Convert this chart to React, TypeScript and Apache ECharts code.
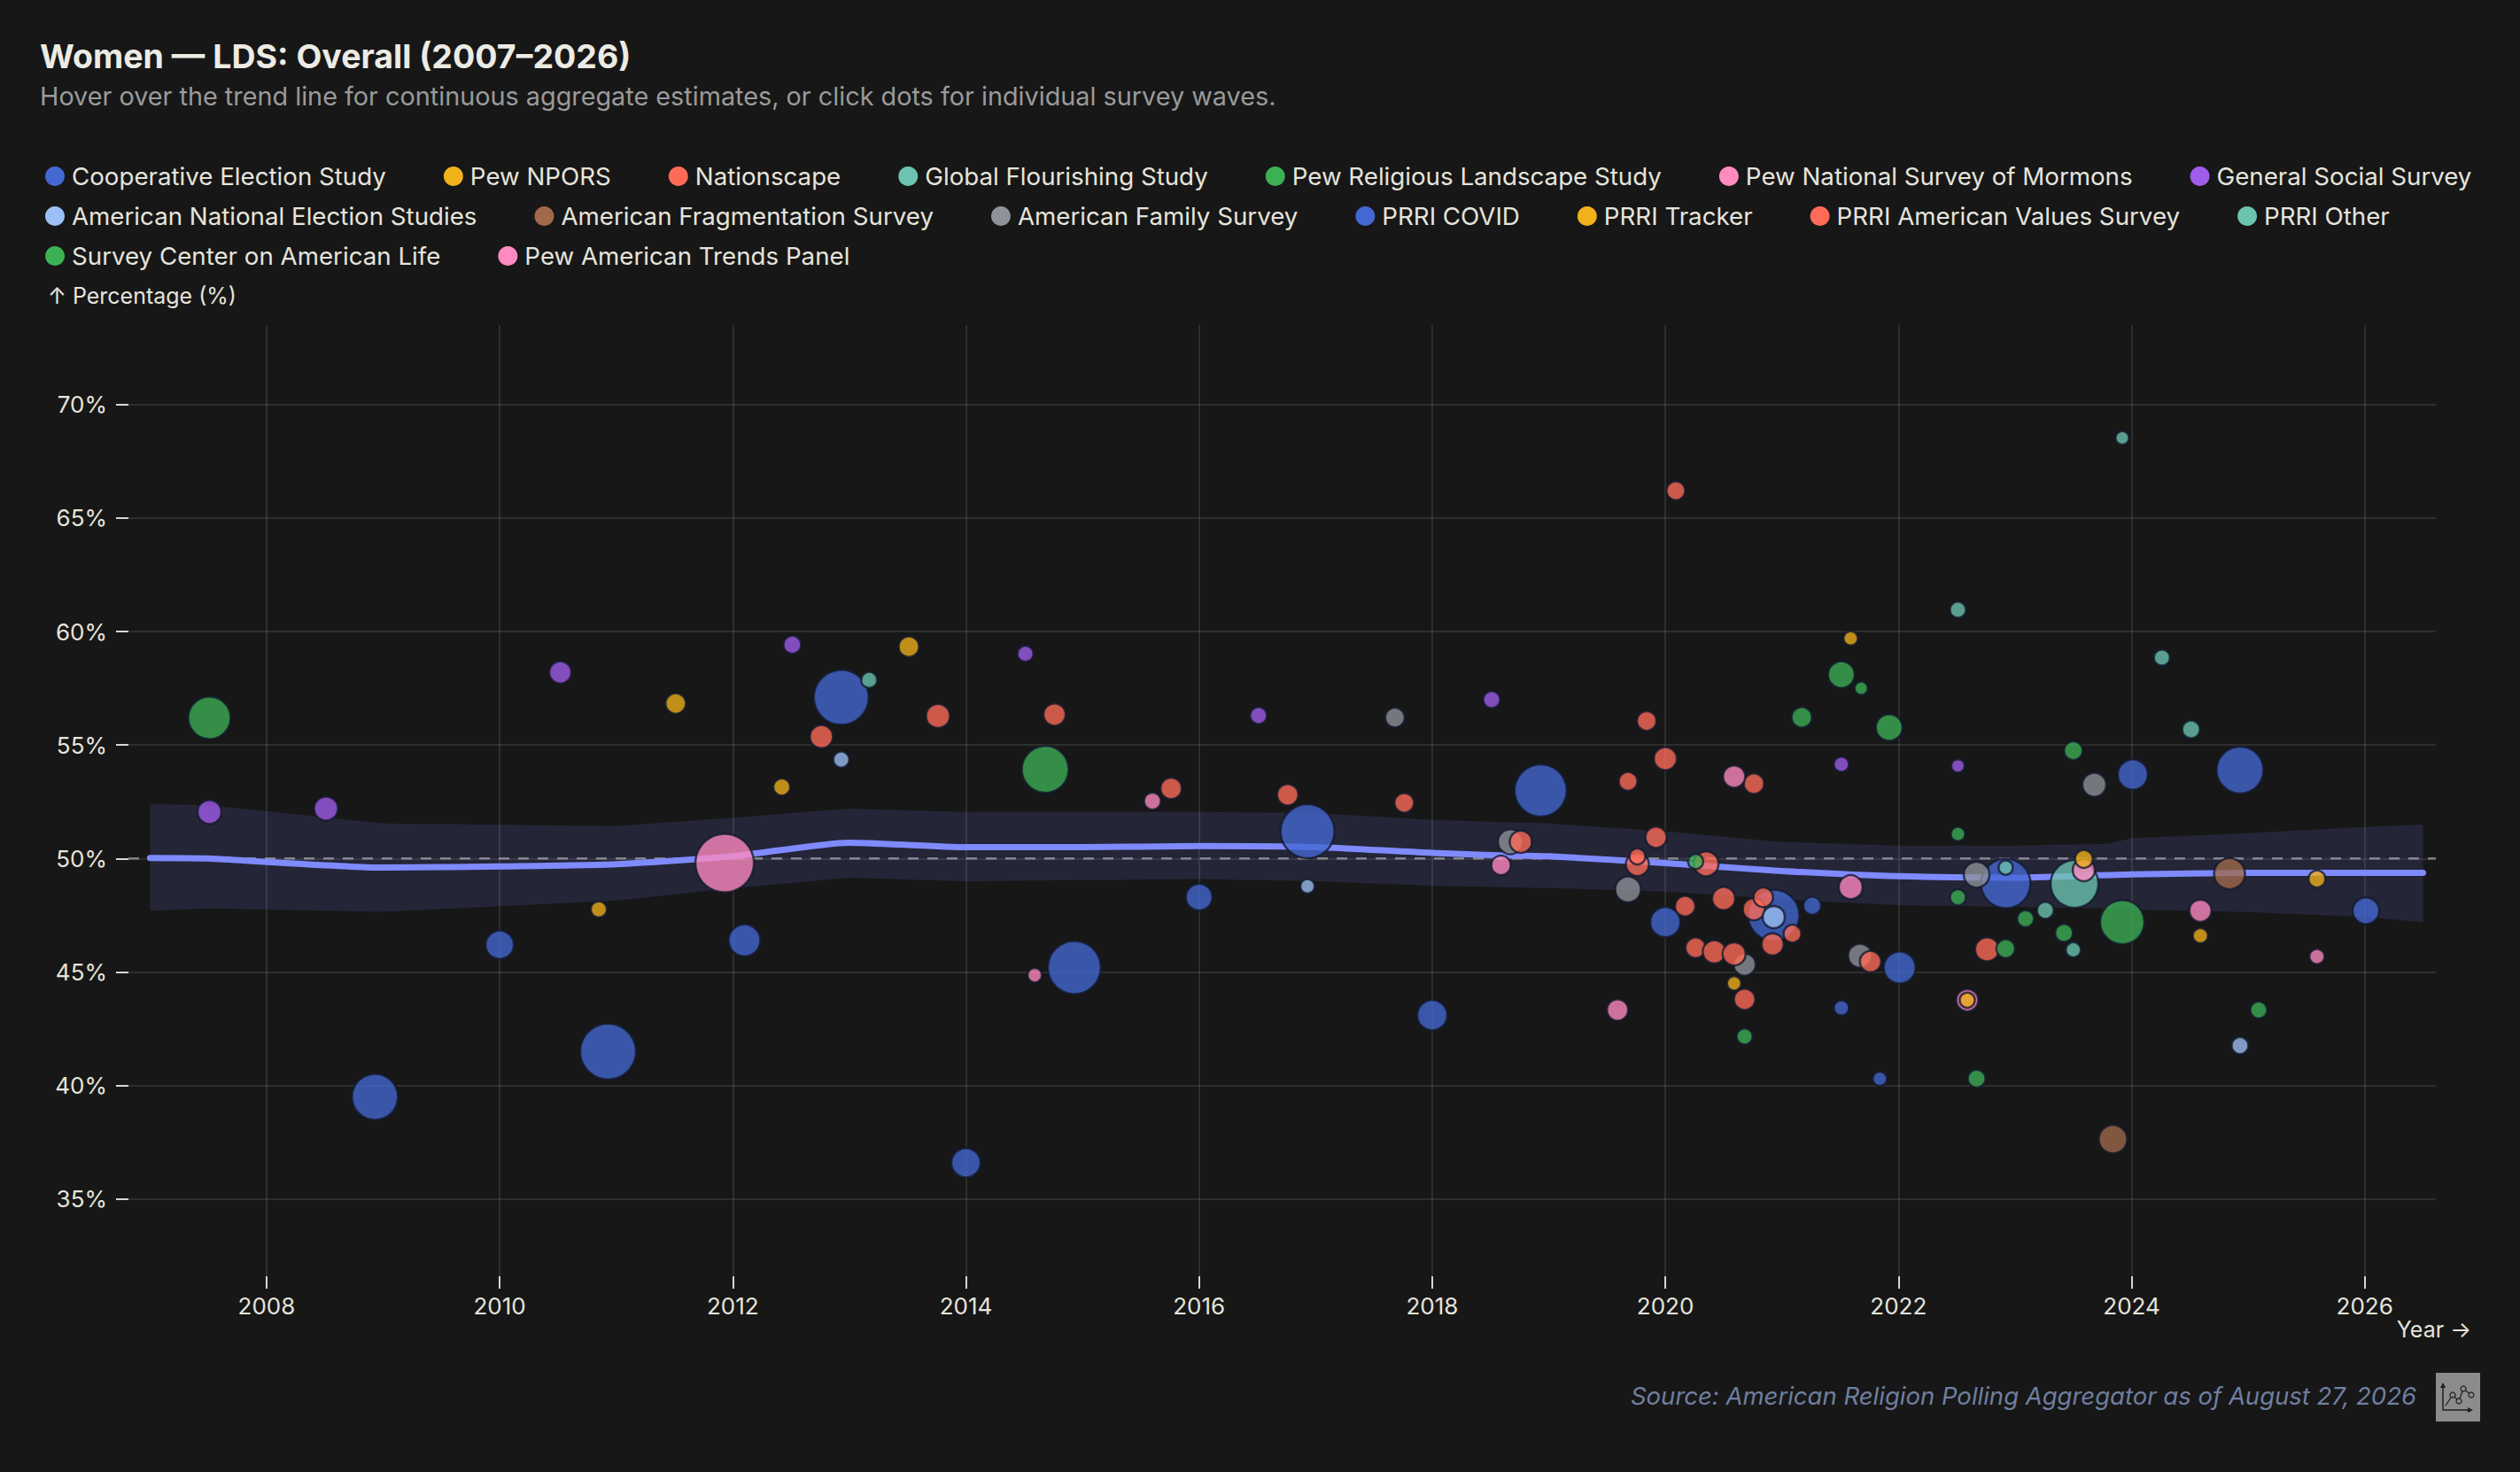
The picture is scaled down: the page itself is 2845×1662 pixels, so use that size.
import React, { useEffect, useRef } from "react";
import * as echarts from "echarts";

// --- survey waves: [year, percent, dot size] ---
const ces = [
	[2008.93, 39.5, 54], [2010.0, 46.2, 34], [2010.93, 41.5, 65], [2012.1, 46.4, 38],
	[2012.93, 57.1, 64], [2014.0, 36.6, 35], [2014.93, 45.2, 62], [2016.0, 48.3, 32],
	[2016.93, 51.2, 63], [2018.0, 43.1, 36], [2018.93, 53.0, 61], [2020.0, 47.2, 36],
	[2020.93, 47.5, 60], [2022.01, 45.2, 38], [2022.92, 48.9, 58], [2024.01, 53.7, 36],
	[2024.93, 53.9, 55], [2026.01, 47.7, 32],
];
const pewNpors = [[2020.59, 44.5, 18], [2021.59, 59.7, 18], [2024.59, 46.6, 19], [2025.59, 49.1, 21]];
const nationscape = [
	[2019.68, 53.4, 23], [2019.76, 49.74, 28], [2019.76, 50.09, 20], [2019.84, 56.06, 24],
	[2019.92, 50.94, 26], [2020.0, 54.4, 28], [2020.09, 66.2, 23], [2020.17, 47.9, 25],
	[2020.26, 46.07, 25], [2020.35, 49.77, 30], [2020.42, 45.89, 28], [2020.5, 48.24, 28],
	[2020.59, 45.8, 28], [2020.68, 43.8, 26], [2020.76, 53.3, 25], [2020.76, 47.77, 27],
	[2020.84, 48.29, 24], [2020.92, 46.22, 27], [2021.09, 46.69, 22],
];
const globalFlourishing = [[2023.26, 47.72, 21], [2023.5, 45.98, 19], [2023.51, 48.88, 56], [2024.26, 58.85, 20]];
const pewLandscape = [[2007.51, 56.2, 50], [2014.68, 53.93, 55], [2023.92, 47.2, 52]];
const pewMormons = [[2011.93, 49.8, 68]];
const gss = [
	[2007.51, 52.05, 29], [2008.51, 52.2, 29], [2010.52, 58.2, 27], [2012.51, 59.42, 22],
	[2014.51, 59.02, 20], [2016.51, 56.3, 21], [2018.51, 57.0, 21], [2021.51, 54.15, 19],
	[2022.51, 54.08, 17],
];
const anes = [[2012.93, 54.36, 20], [2016.93, 48.78, 18], [2020.93, 47.42, 27], [2024.93, 41.76, 21]];
const fragmentation = [[2023.84, 37.64, 34], [2024.84, 49.33, 37]];
const familySurvey = [
	[2017.68, 56.21, 24], [2018.67, 50.74, 30], [2019.68, 48.64, 31], [2020.68, 45.33, 27],
	[2021.67, 45.72, 29], [2022.67, 49.29, 31], [2023.68, 53.25, 29],
];
const prriCovid = [[2021.26, 47.92, 22], [2021.51, 43.42, 19], [2021.84, 40.3, 18]];
const prriTracker = [
	[2010.85, 47.76, 20], [2011.51, 56.83, 25], [2012.42, 53.15, 21], [2013.51, 59.33, 25],
	[2022.59, 43.76, 19], [2023.59, 49.98, 22],
];
const prriValues = [
	[2012.76, 55.37, 28], [2013.76, 56.28, 29], [2014.76, 56.34, 27], [2015.76, 53.09, 26],
	[2016.76, 52.81, 26], [2017.76, 52.45, 24], [2018.76, 50.74, 27], [2021.76, 45.46, 26],
	[2022.76, 46.0, 29],
];
const prriOther = [[2013.17, 57.87, 20], [2022.51, 60.96, 20], [2022.92, 49.6, 18], [2023.92, 68.53, 17], [2024.51, 55.69, 22]];
const scal = [
	[2020.26, 49.87, 19], [2020.68, 42.16, 20], [2021.17, 56.22, 25], [2021.51, 58.1, 32],
	[2021.68, 57.5, 17], [2021.92, 55.77, 32], [2022.51, 51.08, 18], [2022.51, 48.29, 20],
	[2022.67, 40.31, 22], [2022.92, 46.03, 23], [2023.09, 47.35, 21], [2023.42, 46.72, 22],
	[2023.5, 54.75, 23], [2025.09, 43.33, 21],
];
const pewTrends = [
	[2014.59, 44.86, 18], [2015.6, 52.53, 21], [2018.59, 49.7, 24], [2019.59, 43.33, 26],
	[2020.59, 53.61, 27], [2021.59, 48.74, 29], [2022.59, 43.76, 27], [2023.59, 49.49, 27],
	[2024.59, 47.7, 27], [2025.59, 45.68, 19],
];

// --- aggregate trend and its band ---
const trendYears = [2007.0, 2007.5, 2008.0, 2009.0, 2010.0, 2011.0, 2012.0, 2013.0, 2014.0, 2015.0, 2016.0, 2017.0, 2018.0, 2018.5, 2019.0, 2020.0, 2021.0, 2022.0, 2023.0, 2024.0, 2025.0, 2026.0, 2026.5];
const trendValues = [50.02, 50.0, 49.85, 49.6, 49.65, 49.75, 50.1, 50.7, 50.5, 50.5, 50.55, 50.5, 50.25, 50.15, 50.1, 49.8, 49.45, 49.22, 49.16, 49.3, 49.37, 49.37, 49.37];
const bandYears = [2007.0, 2007.5, 2009.0, 2011.0, 2012.0, 2013.0, 2014.0, 2015.0, 2016.0, 2017.0, 2018.0, 2019.0, 2020.0, 2021.0, 2022.0, 2023.0, 2023.8, 2024.0, 2025.0, 2026.0, 2026.5];
const bandUpper = [52.4, 52.35, 51.55, 51.43, 51.8, 52.2, 52.05, 52.05, 52.05, 52.0, 51.7, 51.55, 51.2, 50.73, 50.57, 50.57, 50.65, 50.9, 51.12, 51.39, 51.5];
const bandLower = [47.7, 47.8, 47.65, 48.15, 48.7, 49.16, 49.0, 49.05, 49.1, 49.0, 48.8, 48.7, 48.55, 48.2, 47.95, 47.87, 47.8, 47.75, 47.64, 47.43, 47.2];

const xTicks = [2008, 2010, 2012, 2014, 2016, 2018, 2020, 2022, 2024, 2026];
const yTicks = [35, 40, 45, 50, 55, 60, 65, 70];
const X_MIN = 2006.815;
const X_MAX = 2026.61;
const Y_MIN = 31.6;
const Y_MAX = 73.5;
const REFERENCE = 50;

// legend order, with colour
const surveys = [
	{ name: "Cooperative Election Study", color: "#4468D2", data: ces },
	{ name: "Pew NPORS", color: "#F0B11A", data: pewNpors },
	{ name: "Nationscape", color: "#FF6B57", data: nationscape },
	{ name: "Global Flourishing Study", color: "#6CC4B0", data: globalFlourishing },
	{ name: "Pew Religious Landscape Study", color: "#3CB054", data: pewLandscape },
	{ name: "Pew National Survey of Mormons", color: "#FF8AC0", data: pewMormons },
	{ name: "General Social Survey", color: "#A05CEB", data: gss },
	{ name: "American National Election Studies", color: "#9CC0F5", data: anes },
	{ name: "American Fragmentation Survey", color: "#A0694B", data: fragmentation },
	{ name: "American Family Survey", color: "#8E9299", data: familySurvey },
	{ name: "PRRI COVID", color: "#4468D2", data: prriCovid },
	{ name: "PRRI Tracker", color: "#F0B11A", data: prriTracker },
	{ name: "PRRI American Values Survey", color: "#FF6B57", data: prriValues },
	{ name: "PRRI Other", color: "#6CC4B0", data: prriOther },
	{ name: "Survey Center on American Life", color: "#3CB054", data: scal },
	{ name: "Pew American Trends Panel", color: "#FF8AC0", data: pewTrends },
];

// bigger dots go underneath
const drawOrder = [
	"Cooperative Election Study", "Pew National Survey of Mormons", "Global Flourishing Study",
	"Pew Religious Landscape Study", "American Fragmentation Survey", "American Family Survey",
	"Nationscape", "PRRI American Values Survey", "Survey Center on American Life",
	"American National Election Studies", "PRRI COVID", "General Social Survey", "PRRI Other",
	"Pew American Trends Panel", "Pew NPORS", "PRRI Tracker",
];

const FONT = "Inter, 'Noto Sans', sans-serif";
const TEXT = "#e6e4dc";

const App: React.FC = () => {
	const chartRef = useRef<HTMLDivElement>(null);

	useEffect(() => {
		if (!chartRef.current) return;
		const chart = echarts.init(chartRef.current, null, { renderer: "svg" });

		const dotSeries = drawOrder.map((name) => {
			const s = surveys.find((d) => d.name === name)!;
			return {
				name: s.name,
				type: "scatter",
				z: 4,
				data: s.data,
				symbolSize: (v: number[]) => v[2] - 2,
				itemStyle: {
					color: s.color,
					opacity: 0.78,
					borderColor: "#131a2c",
					borderWidth: 2.5,
				},
			};
		});

		const option: any = {
			animation: false,
			backgroundColor: "#171717",
			textStyle: { fontFamily: FONT },
			grid: { left: 145, right: 95, top: 367, bottom: 221, containLabel: false },
			legend: {
				data: surveys.map((s) => s.name),
				left: 46,
				right: 0,
				top: 180,
				icon: "circle",
				itemWidth: 22,
				itemHeight: 22,
				itemGap: 17,
				itemStyle: { opacity: 1, borderWidth: 0 },
				textStyle: {
					color: TEXT,
					fontSize: 27.7,
					fontFamily: FONT,
					lineHeight: 28,
					padding: [0, 48, 0, 3],
				},
			},
			xAxis: {
				type: "value",
				min: X_MIN,
				max: X_MAX,
				axisLine: { show: false },
				axisTick: {
					show: true,
					customValues: xTicks,
					length: 14,
					lineStyle: { color: "#d8d6ce", width: 2 },
				},
				axisLabel: {
					customValues: xTicks,
					formatter: (v: number) => String(v),
					color: TEXT,
					fontSize: 26,
					fontFamily: FONT,
					margin: 20,
				},
				splitLine: { show: true, lineStyle: { color: "rgba(255,255,255,0.1)", width: 2 } },
			},
			yAxis: {
				type: "value",
				min: Y_MIN,
				max: Y_MAX,
				axisLine: { show: false },
				axisTick: {
					show: true,
					customValues: yTicks,
					length: 14,
					lineStyle: { color: "#d8d6ce", width: 2 },
				},
				axisLabel: {
					customValues: yTicks,
					formatter: (v: number) => `${v}%`,
					color: TEXT,
					fontSize: 26,
					fontFamily: FONT,
					margin: 24,
				},
				splitLine: { show: true, lineStyle: { color: "rgba(255,255,255,0.1)", width: 2 } },
			},
			series: [
				{
					name: "band",
					type: "custom",
					z: 1,
					silent: true,
					data: [[bandYears[0], bandLower[0]]],
					renderItem: (params: any, api: any) => {
						const top = bandYears.map((x, i) => api.coord([x, bandUpper[i]]));
						const bottom = bandYears.map((x, i) => api.coord([x, bandLower[i]])).reverse();
						return {
							type: "polygon",
							shape: { points: top.concat(bottom) },
							style: { fill: "rgba(123,134,255,0.14)" },
						};
					},
				},
				{
					name: "reference",
					type: "line",
					z: 2,
					silent: true,
					showSymbol: false,
					data: [[X_MIN, REFERENCE], [X_MAX, REFERENCE]],
					lineStyle: { color: "rgba(190,190,190,0.6)", width: 2.5, type: [12, 10] },
				},
				{
					name: "trend",
					type: "line",
					z: 3,
					silent: true,
					smooth: 0.2,
					showSymbol: false,
					data: trendYears.map((x, i) => [x, trendValues[i]]),
					lineStyle: { color: "#7f8aff", width: 7, cap: "round", join: "round" },
				},
				...dotSeries,
			],
			graphic: [
				{
					type: "text", x: 45, y: 63,
					style: { text: "Women — LDS: Overall (2007–2026)", fill: "#ecebe4", font: `bold 37.5px ${FONT}`, verticalAlign: "middle" },
				},
				{
					type: "text", x: 45, y: 108,
					style: { text: "Hover over the trend line for continuous aggregate estimates, or click dots for individual survey waves.", fill: "#9a9a9a", font: `28.8px ${FONT}`, verticalAlign: "middle" },
				},
				{
					type: "text", x: 54, y: 334,
					style: { text: "↑ Percentage (%)", fill: TEXT, font: `25px ${FONT}`, verticalAlign: "middle" },
				},
				{
					type: "text", x: 2790, y: 1501,
					style: { text: "Year →", fill: TEXT, font: `25px ${FONT}`, align: "right", verticalAlign: "middle" },
				},
				{
					type: "text", x: 2728, y: 1576,
					style: { text: "Source: American Religion Polling Aggregator as of August 27, 2026", fill: "#6f7f9f", font: `italic 27.5px ${FONT}`, align: "right", verticalAlign: "middle" },
				},
				{
					type: "group", x: 2750, y: 1550,
					children: [
						{ type: "rect", shape: { x: 0, y: 0, width: 50, height: 55 }, style: { fill: "#8c8c8c" } },
						{ type: "polyline", shape: { points: [[8, 15], [8, 42], [38, 42]] }, style: { stroke: "#1e1e1e", lineWidth: 1.5, fill: "none" } },
						{ type: "polygon", shape: { points: [[5, 17], [8, 11], [11, 17]] }, style: { fill: "#1e1e1e" } },
						{ type: "polygon", shape: { points: [[36, 39], [42, 42], [36, 45]] }, style: { fill: "#1e1e1e" } },
						{ type: "polyline", shape: { points: [[11, 37], [19, 25], [26, 32], [31, 18], [40, 25]] }, style: { stroke: "#1e1e1e", lineWidth: 1.2, fill: "none" } },
						{ type: "circle", shape: { cx: 19, cy: 25, r: 3 }, style: { fill: "#8c8c8c", stroke: "#1e1e1e", lineWidth: 1.2 } },
						{ type: "circle", shape: { cx: 26, cy: 32, r: 3 }, style: { fill: "#8c8c8c", stroke: "#1e1e1e", lineWidth: 1.2 } },
						{ type: "circle", shape: { cx: 31, cy: 18, r: 3 }, style: { fill: "#8c8c8c", stroke: "#1e1e1e", lineWidth: 1.2 } },
						{ type: "circle", shape: { cx: 40, cy: 25, r: 3 }, style: { fill: "#8c8c8c", stroke: "#1e1e1e", lineWidth: 1.2 } },
					],
				},
			],
		};

		chart.setOption(option);

		return () => {
			chart.dispose();
		};
	}, []);

	return (
		<div
			ref={chartRef}
			style={{ position: "fixed", left: 0, top: 0, width: "100vw", height: "100vh", background: "#171717" }}
		/>
	);
};

export default App;
